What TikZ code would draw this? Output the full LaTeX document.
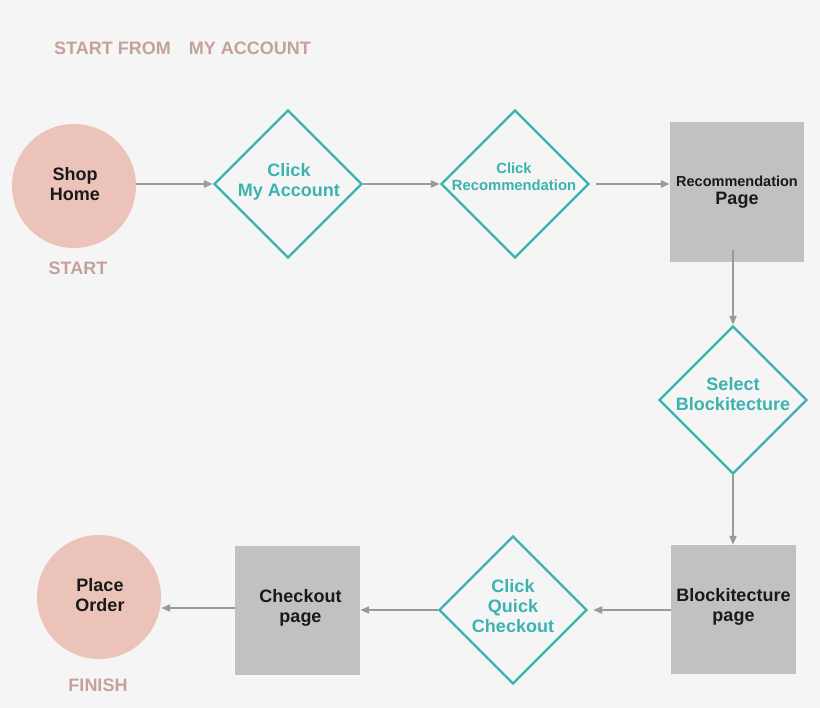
\documentclass[tikz,border=0pt]{standalone}
\usepackage{fontspec}
\setmainfont{Liberation Sans}
\usetikzlibrary{shapes.geometric,arrows.meta}
\definecolor{bgc}{HTML}{F5F5F5}
\definecolor{pinkc}{HTML}{ECC3B9}
\definecolor{labc}{HTML}{C4A29B}
\definecolor{tealc}{HTML}{3BB3AF}
\definecolor{grayc}{HTML}{C1C1C1}
\definecolor{arrc}{HTML}{9A9A9A}
\tikzset{
  endc/.style={circle,fill=pinkc,draw=none,minimum size=124pt,inner sep=0pt},
  endtext/.style={align=center,inner sep=0pt,font=\fontsize{18}{20}\selectfont\bfseries,text=black!90},
  dec/.style={diamond,draw=tealc,line width=2.2pt,minimum width=148pt,minimum height=148pt,inner sep=0pt,aspect=1},
  dectext/.style={align=center,inner sep=0pt,text=tealc,font=\fontsize{18}{20}\selectfont\bfseries},
  pagebox/.style={rectangle,fill=grayc,draw=none,inner sep=0pt},
  pagetext/.style={align=center,text=black!90,inner sep=0pt,font=\fontsize{18}{20}\selectfont\bfseries},
  lab/.style={text=labc,font=\fontsize{18}{20}\selectfont\bfseries,inner sep=0pt},
  conn/.style={draw=arrc,line width=2pt,-{Triangle[length=9pt,width=7pt]}}
}
\begin{document}
\begin{tikzpicture}[x=1pt,y=-1pt]
\fill[bgc] (0,0) rectangle (820,708);
\useasboundingbox (0,0) rectangle (820,708);
\node[lab,anchor=west] (title) at (54,48) {START FROM\hspace{18pt}MY ACCOUNT};
\node[endc] (shop) at (74,186) {};
\node[endtext] (shopt) at (75,184.5) {Shop\\Home};
\node[lab] (start) at (78,268) {START};
\node[dec] (d1) at (288,184) {};
\node[dectext] (d1t) at (289,181.5) {Click\\My Account};
\node[dec] (d2) at (515,184) {};
\node[dectext,font=\fontsize{14.8}{16.5}\selectfont\bfseries] (d2t) at (514,176.5) {Click\\Recommendation};
\node[pagebox,minimum width=134pt,minimum height=140pt] (rec) at (737,192) {};
\node[pagetext,font=\fontsize{18}{18}\selectfont\bfseries] (rect) at (737,192) {{\fontsize{14.5}{18}\selectfont Recommendation}\\Page};
\node[dec] (d3) at (733,400) {};
\node[dectext] (d3t) at (733,394) {Select\\Blockitecture};
\node[pagebox,minimum width=125pt,minimum height=129pt] (blk) at (733.5,609.5) {};
\node[pagetext] (blkt) at (733.5,606.5) {Blockitecture\\page};
\node[dec] (d4) at (513,610) {};
\node[dectext] (d4t) at (513,606) {Click\\Quick\\Checkout};
\node[pagebox,minimum width=125pt,minimum height=129pt] (chk) at (297.5,610.5) {};
\node[pagetext] (chkt) at (300.5,608) {Checkout\\page};
\node[endc] (place) at (99,597) {};
\node[endtext] (placet) at (100,595) {Place\\Order};
\node[lab] (finish) at (98,685) {FINISH};
\draw[conn] (shop.east |- 0,184) -- (d1.west);
\draw[conn] (d1.east) -- (d2.west);
\draw[conn,shorten <=6pt] (d2.east) -- (rec.west |- d2.east);
\draw[conn] ([yshift=12pt]rec.south -| d3.north) -- (d3.north);
\draw[conn] (d3.south) -- (blk.north -| d3.south);
\draw[conn,shorten >=5pt] (blk.west |- d4.east) -- (d4.east);
\draw[conn] (d4.west) -- (chk.east |- d4.west);
\draw[conn] (chk.west |- 0,608) -- (place.east |- 0,608);
\end{tikzpicture}
\end{document}
